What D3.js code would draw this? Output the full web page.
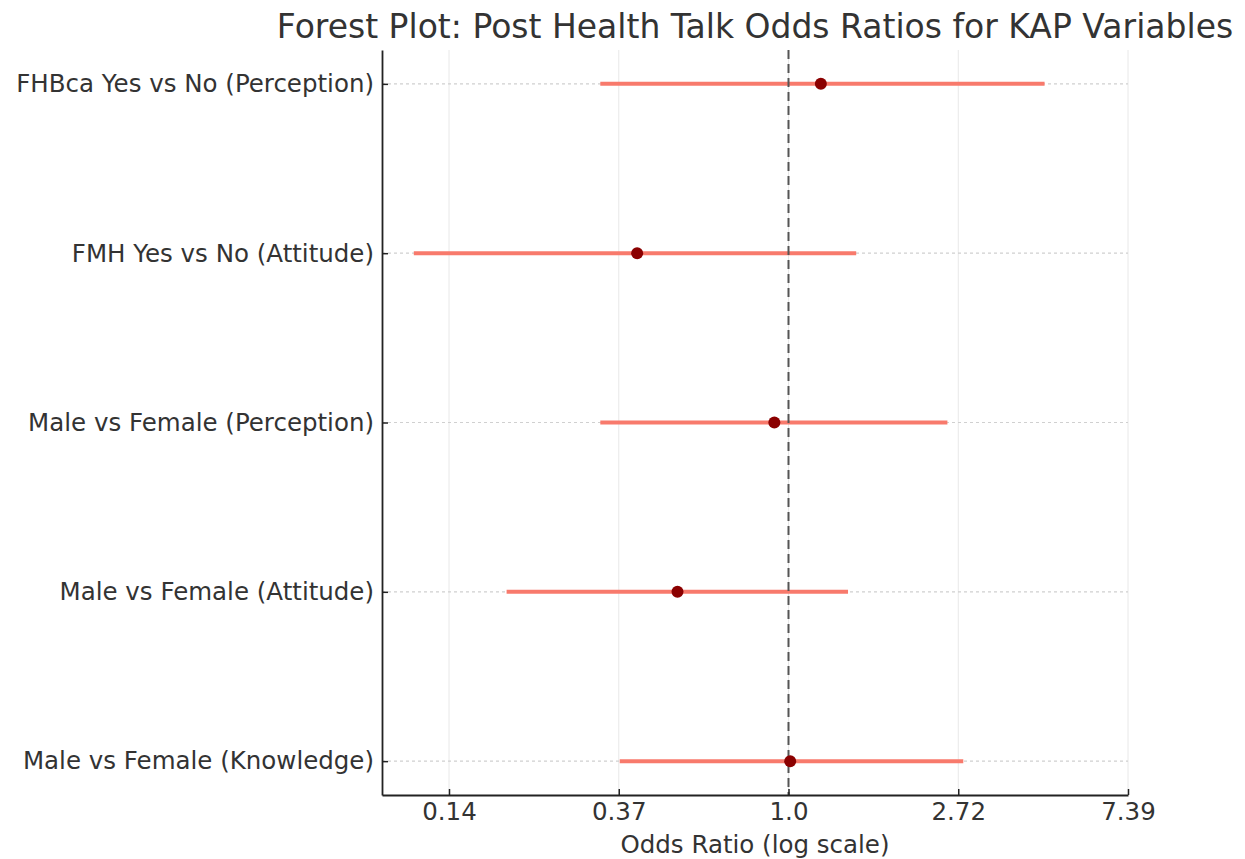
<!DOCTYPE html>
<html><head><meta charset="utf-8">
<script src="https://cdn.jsdelivr.net/npm/d3@7"></script>
<style>body{margin:0;background:#fff}svg{display:block}text{font-family:"DejaVu Sans",sans-serif;fill:#333}</style>
</head><body>
<svg id="c" width="1245" height="859"></svg>
<script>
const categories = ["FHBca Yes vs No (Perception)","FMH Yes vs No (Attitude)","Male vs Female (Perception)","Male vs Female (Attitude)","Male vs Female (Knowledge)"];
const oddsRatio = [1.21, 0.41, 0.92, 0.52, 1.01];
const ciLower = [0.33, 0.11, 0.33, 0.19, 0.37];
const ciUpper = [4.52, 1.49, 2.55, 1.42, 2.80];
const tickValues = [Math.exp(-2), Math.exp(-1), 1, Math.exp(1), Math.exp(2)];
const tickLabels = ["0.14","0.37","1.0","2.72","7.39"];
const xDomain = [0.0912, 7.389];

const svg = d3.select("#c");
const L = 382, R = 1128, T = 50, B = 795;
const x = d3.scaleLog().domain(xDomain).range([L, R]);
const y = d3.scalePoint().domain(categories).range([T, B]).padding(0.2);

// vertical grid
svg.append("g").selectAll("line").data(tickValues).join("line")
  .attr("x1", d => x(d)).attr("x2", d => x(d)).attr("y1", T).attr("y2", B)
  .attr("stroke", "#e8e8e8").attr("stroke-width", 1);
// horizontal dotted grid
svg.append("g").selectAll("line").data(categories).join("line")
  .attr("x1", L).attr("x2", R).attr("y1", d => y(d)).attr("y2", d => y(d))
  .attr("stroke", "#d0d0d0").attr("stroke-width", 1.2).attr("stroke-dasharray", "3,3");

// CI lines
const rows = categories.map((c, i) => ({c, or: oddsRatio[i], lo: ciLower[i], hi: ciUpper[i]}));
svg.append("g").selectAll("line").data(rows).join("line")
  .attr("x1", d => x(d.lo)).attr("x2", d => x(d.hi)).attr("y1", d => y(d.c)).attr("y2", d => y(d.c))
  .attr("stroke", "#f87a6c").attr("stroke-width", 4);

// reference line
svg.append("line").attr("x1", x(1)).attr("x2", x(1)).attr("y1", T).attr("y2", B)
  .attr("stroke", "#555").attr("stroke-width", 2).attr("stroke-dasharray", "9,5");

// points
svg.append("g").selectAll("circle").data(rows).join("circle")
  .attr("cx", d => x(d.or)).attr("cy", d => y(d.c)).attr("r", 6).attr("fill", "#8b0000");

// x axis
const xa = svg.append("g").attr("transform", `translate(0,${B})`)
  .call(d3.axisBottom(x).tickValues(tickValues).tickFormat((d, i) => tickLabels[i]).tickSizeInner(-6).tickSizeOuter(0).tickPadding(8));
xa.select(".domain").attr("stroke", "#222").attr("stroke-width", 1.8);
xa.selectAll(".tick line").attr("stroke", "#222").attr("stroke-width", 1.5);
xa.selectAll(".tick text").style("font-size", "24.5px").attr("fill", "#333");

// y axis
const ya = svg.append("g").attr("transform", `translate(${L},0)`)
  .call(d3.axisLeft(y).tickSizeInner(-6).tickSizeOuter(0).tickPadding(8));
ya.select(".domain").attr("stroke", "#222").attr("stroke-width", 1.8);
ya.selectAll(".tick line").attr("stroke", "#222").attr("stroke-width", 1.5);
ya.selectAll(".tick text").style("font-size", "24.5px").attr("fill", "#333");

// labels
svg.append("text").attr("x", (L + R) / 2).attr("y", 853).attr("text-anchor", "middle")
  .style("font-size", "24.5px").text("Odds Ratio (log scale)");
svg.append("text").attr("x", (L + R) / 2).attr("y", 38).attr("text-anchor", "middle")
  .style("font-size", "33px").text("Forest Plot: Post Health Talk Odds Ratios for KAP Variables");
</script>
</body></html>
